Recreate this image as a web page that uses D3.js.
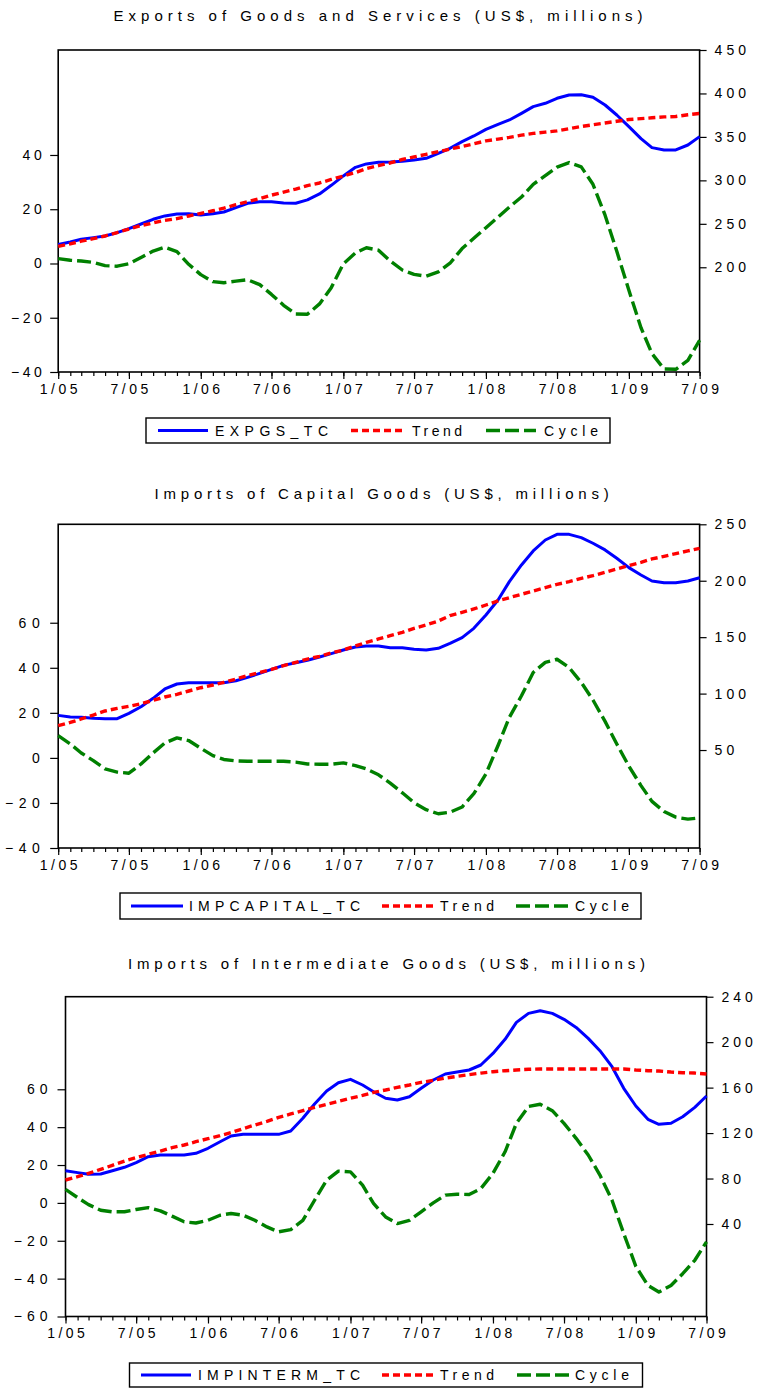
<!DOCTYPE html>
<html>
<head>
<meta charset="utf-8">
<script src="https://cdn.jsdelivr.net/npm/d3@7"></script>
<style>
  body { margin: 0; background: #fff; }
  svg { display: block; font-family: "Liberation Sans", Arial, sans-serif; }
</style>
</head>
<body>
<svg id="chart"></svg>
<script>
const width = 757;
const height = 1388;

// monthly observations 1/2005 .. 7/2009
const months = d3.timeMonth.range(new Date(2005, 0, 1), new Date(2009, 7, 1));
const xTickLabels = ["1/05", "7/05", "1/06", "7/06", "1/07", "7/07", "1/08", "7/08", "1/09", "7/09"];

// Exports of goods and services
const expgsTC = [226.1, 229.1, 232.2, 234.1, 236.0, 239.9, 244.5, 249.8, 255.2, 259.1,
  261.3, 261.7, 260.2, 261.7, 263.6, 268.6, 273.6, 275.5, 275.5, 274.0,
  273.6, 277.5, 284.4, 294.3, 305.1, 315.0, 318.9, 320.8, 321.2, 322.0,
  323.5, 325.4, 331.1, 336.9, 344.6, 351.1, 358.7, 364.5, 369.5, 377.1,
  384.8, 388.7, 394.4, 398.2, 398.6, 395.6, 386.7, 375.2, 361.8, 348.0,
  337.7, 335.0, 335.0, 340.7, 350.3];
const expgsTrend = [224, 227, 230, 233, 236, 240, 244, 248, 251, 254,
  256, 259, 262, 265, 268, 272, 275.5, 279, 283, 286.5,
  290, 294, 297, 301, 305, 309, 313.5, 317, 320, 324,
  327, 330, 333, 336, 339, 342, 345.5, 347.5, 349.5, 352,
  354, 355.5, 357, 359.5, 362, 364, 366, 368, 370, 371,
  372, 373, 373.5, 375.5, 377];
const expgsCycle = [1.8, 1.2, 0.9, 0.4, -0.8, -1.0, -0.1, 2.2, 4.6, 6.0,
  4.4, -0.3, -4.1, -6.7, -7.1, -6.5, -6.0, -7.8, -11.4, -15.4,
  -18.6, -18.7, -14.9, -8.9, -0.1, 3.9, 5.8, 4.9, 0.9, -2.4,
  -4.0, -4.7, -3.1, 0.1, 5.5, 9.3, 13.2, 17.1, 20.8, 24.5,
  29.2, 32.4, 35.5, 37.2, 35.6, 29.2, 17.8, 4.5, -9.9, -23.7,
  -33.2, -38.9, -39.0, -35.7, -28.3];

// Imports of capital goods
const impcapTC = [80.7, 79.2, 79.0, 78.1, 77.8, 77.8, 82.5, 88.4, 95.8, 104.1,
  108.5, 109.7, 109.7, 109.7, 109.7, 111.4, 114.4, 117.9, 121.5, 125.0,
  127.4, 129.5, 132.4, 135.4, 138.6, 141.3, 142.2, 142.2, 140.7, 140.7,
  139.2, 138.6, 140.1, 144.5, 149.6, 157.8, 169.6, 182.9, 199.2, 214.0,
  226.4, 236.1, 241.1, 241.1, 238.2, 233.2, 227.3, 219.9, 211.6, 205.1,
  199.8, 198.3, 198.3, 199.8, 202.7];
const impcapTrend = [71.6, 74.5, 77.5, 81.0, 84.6, 86.9, 88.7, 91.1, 94.0, 97.0,
  99.3, 102.3, 105.2, 107.6, 110.0, 112.9, 115.9, 118.8, 121.5, 124.7,
  127.7, 130.6, 133.0, 136.0, 138.6, 142.2, 145.4, 148.4, 151.3, 154.3,
  157.8, 160.8, 164.3, 169.1, 172.0, 175.0, 178.5, 182.1, 185.0, 188.0,
  190.9, 193.9, 196.8, 199.2, 202.1, 204.5, 207.5, 210.4, 213.4, 216.3,
  219.3, 221.6, 224.0, 226.4, 228.7];
const impcapCycle = [9.9, 6.2, 2.2, -1.2, -4.9, -6.3, -6.8, -2.7, 2.2, 6.6,
  8.9, 7.7, 4.3, 1.0, -0.7, -1.3, -1.5, -1.5, -1.5, -1.5,
  -1.9, -2.7, -2.8, -2.8, -2.2, -3.4, -4.9, -7.5, -11.2, -15.5,
  -19.9, -23.0, -24.8, -24.1, -21.8, -15.9, -7.1, 5.5, 18.0, 27.6,
  37.9, 42.4, 43.8, 40.1, 33.5, 25.7, 16.2, 6.2, -3.7, -12.3,
  -19.3, -23.8, -26.3, -27.2, -26.6];

// Imports of intermediate goods
const impintTC = [86.9, 85.2, 83.7, 84.0, 86.9, 89.9, 94.0, 99.2, 100.7, 100.7,
  100.7, 102.2, 106.6, 112.4, 117.4, 118.9, 118.9, 118.9, 118.9, 121.8,
  133.0, 145.6, 157.0, 164.3, 167.3, 162.3, 156.4, 150.6, 149.1, 152.0,
  159.4, 166.7, 172.0, 173.7, 175.5, 179.9, 190.1, 202.5, 217.4, 225.3,
  227.7, 225.3, 220.1, 213.0, 203.3, 192.5, 178.4, 159.4, 143.8, 132.1,
  127.7, 128.6, 134.4, 142.6, 152.6];
const impintTrend = [78.7, 81.6, 84.6, 88.1, 91.6, 95.4, 98.4, 101.3, 104.2, 107.2,
  109.5, 112.4, 115.1, 117.7, 120.4, 123.9, 127.1, 130.3, 133.8, 136.8,
  139.7, 142.6, 145.3, 147.9, 150.6, 153.2, 155.8, 157.9, 160.2, 162.3,
  164.6, 166.4, 168.4, 169.9, 171.4, 172.8, 174.0, 174.9, 175.5, 176.1,
  176.4, 176.4, 176.4, 176.4, 176.4, 176.4, 176.4, 176.4, 175.5, 174.9,
  174.6, 173.7, 173.1, 172.8, 172.0];
const impintCycle = [7.1, 2.8, -0.9, -3.9, -4.7, -4.7, -3.5, -2.5, -4.2, -7.0,
  -10.0, -10.6, -9.2, -6.5, -5.6, -6.5, -9.2, -12.7, -15.3, -14.1,
  -9.2, 1.4, 12.0, 16.8, 16.4, 9.4, -0.3, -7.4, -10.9, -9.2,
  -4.7, 0.0, 4.1, 4.6, 4.4, 7.6, 15.6, 27.0, 42.0, 50.9,
  52.1, 48.7, 42.0, 34.1, 25.3, 14.7, 1.4, -16.2, -33.5, -43.6,
  -47.1, -43.6, -37.4, -30.3, -20.6];

// axis ticks
const expgsLeftTicks = [-40, -20, 0, 20, 40];
const expgsRightTicks = [200, 250, 300, 350, 400, 450];
const impcapLeftTicks = [-40, -20, 0, 20, 40, 60];
const impcapRightTicks = [50, 100, 150, 200, 250];
const impintLeftTicks = [-60, -40, -20, 0, 20, 40, 60];
const impintRightTicks = [40, 80, 120, 160, 200, 240];

const svg = d3.select("#chart")
  .attr("width", width)
  .attr("height", height)
  .attr("viewBox", `0 0 ${width} ${height}`);

const colors = { tc: "#0000ff", trend: "#ff0000", cycle: "#008000" };
const dashes = { tc: null, trend: "7,4", cycle: "14,5" };
const widths = { tc: 3, trend: 3.4, cycle: 3.4 };

function drawPanel(p) {
  const g = svg.append("g");

  const x = d3.scaleTime()
    .domain([months[0], months[months.length - 1]])
    .range([p.x0, p.x1]);
  const yL = d3.scaleLinear().domain(p.leftDomain).range([p.y1, p.y0]);
  const yR = d3.scaleLinear().domain(p.rightDomain).range([p.y1, p.y0]);

  // title
  g.append("text")
    .attr("x", (p.tx0 + p.tx1) / 2)
    .attr("y", p.titleY)
    .attr("text-anchor", "middle")
    .attr("font-size", 15)
    .attr("textLength", p.tx1 - p.tx0)
    .attr("lengthAdjust", "spacing")
    .text(p.title);

  // minor monthly ticks
  const minor = g.append("g")
    .attr("transform", `translate(0,${p.y1})`)
    .call(d3.axisBottom(x).tickValues(months).tickSize(4).tickFormat(""));
  minor.select(".domain").remove();
  minor.selectAll("line").attr("stroke-width", 1.2);

  // major ticks every 6 months
  const major = g.append("g")
    .attr("transform", `translate(0,${p.y1})`)
    .call(d3.axisBottom(x)
      .tickValues(months.filter((d, i) => i % 6 === 0))
      .tickSize(7)
      .tickPadding(5)
      .tickFormat((d, i) => xTickLabels[i]));
  major.select(".domain").remove();
  major.selectAll("line").attr("stroke-width", 1.2);
  major.attr("font-size", 14).attr("font-family", null);
  major.selectAll("text").attr("letter-spacing", 3.5).attr("dx", 1.75);

  // left axis (cycle)
  const left = g.append("g")
    .attr("transform", `translate(${p.x0},0)`)
    .call(d3.axisLeft(yL).tickValues(p.leftTicks).tickSize(8).tickPadding(5));
  left.select(".domain").remove();
  left.selectAll("line").attr("stroke-width", 1.2);
  left.attr("font-size", 14).attr("font-family", null);
  left.selectAll("text").attr("letter-spacing", p.leftSpacing);

  // right axis (levels)
  const right = g.append("g")
    .attr("transform", `translate(${p.x1},0)`)
    .call(d3.axisRight(yR).tickValues(p.rightTicks).tickSize(7).tickPadding(8));
  right.select(".domain").remove();
  right.selectAll("line").attr("stroke-width", 1.2);
  right.attr("font-size", 14).attr("font-family", null);
  right.selectAll("text").attr("letter-spacing", 4);

  // frame
  g.append("rect")
    .attr("x", p.x0).attr("y", p.y0)
    .attr("width", p.x1 - p.x0).attr("height", p.y1 - p.y0)
    .attr("fill", "none").attr("stroke", "#000").attr("stroke-width", 1.6);

  const lineR = d3.line().x((d, i) => x(months[i])).y(d => yR(d));
  const lineL = d3.line().x((d, i) => x(months[i])).y(d => yL(d));

  const series = [
    { key: "tc", values: p.tc, line: lineR },
    { key: "trend", values: p.trend, line: lineR },
    { key: "cycle", values: p.cycle, line: lineL }
  ];

  g.selectAll("path.series")
    .data(series)
    .enter()
    .append("path")
    .attr("class", "series")
    .attr("d", d => d.line(d.values))
    .attr("fill", "none")
    .attr("stroke", d => colors[d.key])
    .attr("stroke-width", d => widths[d.key])
    .attr("stroke-dasharray", d => dashes[d.key])
    .attr("stroke-linejoin", "round");

  // legend
  const L = p.legend;
  const lg = g.append("g");
  lg.append("rect")
    .attr("x", L.x0).attr("y", L.y0)
    .attr("width", L.x1 - L.x0).attr("height", L.y1 - L.y0)
    .attr("fill", "#fff").attr("stroke", "#000").attr("stroke-width", 1.4);
  const cy = (L.y0 + L.y1) / 2;
  const names = [p.seriesName, "Trend", "Cycle"];
  series.forEach((s, i) => {
    const it = L.items[i];
    lg.append("line")
      .attr("x1", it[0]).attr("x2", it[1])
      .attr("y1", cy).attr("y2", cy)
      .attr("stroke", colors[s.key])
      .attr("stroke-width", widths[s.key])
      .attr("stroke-dasharray", dashes[s.key]);
    lg.append("text")
      .attr("x", it[2])
      .attr("y", cy + 5)
      .attr("font-size", 14)
      .attr("textLength", it[3] - it[2])
      .attr("lengthAdjust", "spacing")
      .text(names[i]);
  });
}

drawPanel({
  title: "Exports of Goods and Services (US$, millions)",
  titleY: 20.5, tx0: 113.5, tx1: 642.5,
  x0: 58.2, x1: 699.6, y0: 50, y1: 372,
  leftDomain: [-40, 78.7], rightDomain: [79.5, 450],
  leftTicks: expgsLeftTicks, rightTicks: expgsRightTicks, leftSpacing: 3.5,
  tc: expgsTC, trend: expgsTrend, cycle: expgsCycle,
  seriesName: "EXPGS_TC",
  legend: { x0: 146, x1: 610, y0: 418, y1: 443,
    items: [[158, 208, 215, 328], [351, 403, 412, 462], [486, 536, 544, 598]] }
});

drawPanel({
  title: "Imports of Capital Goods (US$, millions)",
  titleY: 499, tx0: 154.6, tx1: 608.7,
  x0: 58.2, x1: 699.6, y0: 524.3, y1: 848,
  leftDomain: [-40, 103.7], rightDomain: [-36.8, 250],
  leftTicks: impcapLeftTicks, rightTicks: impcapRightTicks, leftSpacing: 5.5,
  tc: impcapTC, trend: impcapTrend, cycle: impcapCycle,
  seriesName: "IMPCAPITAL_TC",
  legend: { x0: 120, x1: 641, y0: 893, y1: 919,
    items: [[131, 183, 189, 360], [382, 433, 440, 494], [516, 568, 575, 629]] }
});

drawPanel({
  title: "Imports of Intermediate Goods (US$, millions)",
  titleY: 968.5, tx0: 128, tx1: 645,
  x0: 65.5, x1: 706.5, y0: 996.7, y1: 1316.5,
  leftDomain: [-60, 108.9], rightDomain: [-41.4, 240],
  leftTicks: impintLeftTicks, rightTicks: impintRightTicks, leftSpacing: 5,
  tc: impintTC, trend: impintTrend, cycle: impintCycle,
  seriesName: "IMPINTERM_TC",
  legend: { x0: 129.5, x1: 642.5, y0: 1363, y1: 1387,
    items: [[141, 191, 198, 360], [382, 433, 440, 494], [517, 569, 575, 629]] }
});
</script>
</body>
</html>
